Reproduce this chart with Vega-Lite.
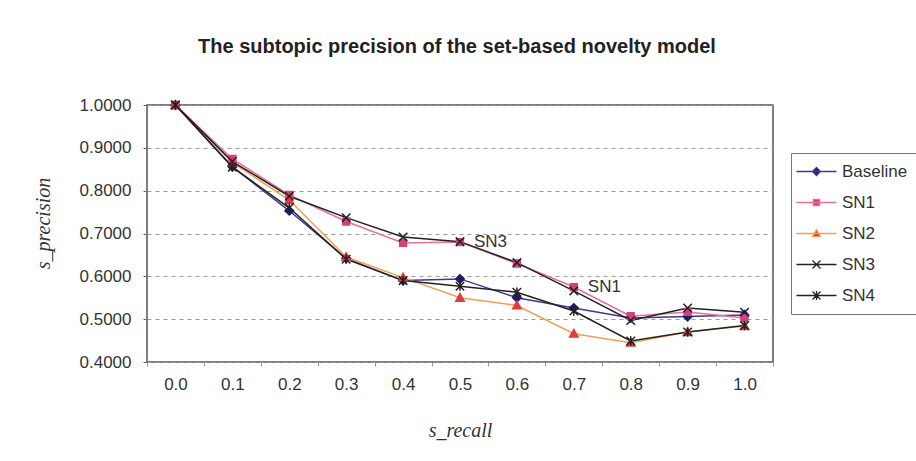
{
  "$schema": "https://vega.github.io/schema/vega-lite/v6.json",
  "width": 626,
  "height": 257,
  "autosize": {"type": "none"},
  "padding": {"left": 147, "top": 105, "right": 143, "bottom": 99},
  "background": "white",
  "title": {
    "text": "The subtopic precision of the set-based novelty model",
    "font": "Liberation Sans",
    "fontSize": 20,
    "fontWeight": "bold",
    "color": "#222222",
    "anchor": "middle",
    "frame": "group",
    "baseline": "alphabetic",
    "offset": 23,
    "dx": -3
  },
  "config": {
    "view": {"stroke": "#555555", "strokeWidth": 1.5},
    "axis": {
      "labelFont": "Liberation Sans",
      "labelFontSize": 17,
      "labelColor": "#333333",
      "titleFont": "Liberation Serif",
      "titleFontSize": 20,
      "titleFontStyle": "italic",
      "titleFontWeight": "normal",
      "titleColor": "#333333"
    },
    "legend": {
      "orient": "none",
      "legendX": 644,
      "legendY": 48,
      "strokeColor": "#777777",
      "fillColor": "white",
      "padding": 10,
      "symbolSize": 64,
      "symbolOffset": 7,
      "labelOffset": 17,
      "labelFont": "Liberation Sans",
      "labelFontSize": 17,
      "labelColor": "#333333",
      "rowPadding": 13,
      "symbolStrokeWidth": 1.3,
      "symbolOpacity": 1
    }
  },
  "data": {
    "values": [
      {"x": "0.0", "series": "Baseline", "y": 1.0},
      {"x": "0.1", "series": "Baseline", "y": 0.856},
      {"x": "0.2", "series": "Baseline", "y": 0.753},
      {"x": "0.3", "series": "Baseline", "y": 0.642},
      {"x": "0.4", "series": "Baseline", "y": 0.590},
      {"x": "0.5", "series": "Baseline", "y": 0.594},
      {"x": "0.6", "series": "Baseline", "y": 0.550},
      {"x": "0.7", "series": "Baseline", "y": 0.526},
      {"x": "0.8", "series": "Baseline", "y": 0.503},
      {"x": "0.9", "series": "Baseline", "y": 0.506},
      {"x": "1.0", "series": "Baseline", "y": 0.510},
      {"x": "0.0", "series": "SN1", "y": 1.0},
      {"x": "0.1", "series": "SN1", "y": 0.874},
      {"x": "0.2", "series": "SN1", "y": 0.790},
      {"x": "0.3", "series": "SN1", "y": 0.728},
      {"x": "0.4", "series": "SN1", "y": 0.678},
      {"x": "0.5", "series": "SN1", "y": 0.680},
      {"x": "0.6", "series": "SN1", "y": 0.630},
      {"x": "0.7", "series": "SN1", "y": 0.575},
      {"x": "0.8", "series": "SN1", "y": 0.507},
      {"x": "0.9", "series": "SN1", "y": 0.517},
      {"x": "1.0", "series": "SN1", "y": 0.503},
      {"x": "0.0", "series": "SN2", "y": 1.0},
      {"x": "0.1", "series": "SN2", "y": 0.866},
      {"x": "0.2", "series": "SN2", "y": 0.778},
      {"x": "0.3", "series": "SN2", "y": 0.645},
      {"x": "0.4", "series": "SN2", "y": 0.597},
      {"x": "0.5", "series": "SN2", "y": 0.550},
      {"x": "0.6", "series": "SN2", "y": 0.532},
      {"x": "0.7", "series": "SN2", "y": 0.466},
      {"x": "0.8", "series": "SN2", "y": 0.445},
      {"x": "0.9", "series": "SN2", "y": 0.470},
      {"x": "1.0", "series": "SN2", "y": 0.484},
      {"x": "0.0", "series": "SN3", "y": 1.0},
      {"x": "0.1", "series": "SN3", "y": 0.868},
      {"x": "0.2", "series": "SN3", "y": 0.787},
      {"x": "0.3", "series": "SN3", "y": 0.737},
      {"x": "0.4", "series": "SN3", "y": 0.692},
      {"x": "0.5", "series": "SN3", "y": 0.681},
      {"x": "0.6", "series": "SN3", "y": 0.632},
      {"x": "0.7", "series": "SN3", "y": 0.566},
      {"x": "0.8", "series": "SN3", "y": 0.497},
      {"x": "0.9", "series": "SN3", "y": 0.526},
      {"x": "1.0", "series": "SN3", "y": 0.516},
      {"x": "0.0", "series": "SN4", "y": 1.0},
      {"x": "0.1", "series": "SN4", "y": 0.855},
      {"x": "0.2", "series": "SN4", "y": 0.760},
      {"x": "0.3", "series": "SN4", "y": 0.640},
      {"x": "0.4", "series": "SN4", "y": 0.590},
      {"x": "0.5", "series": "SN4", "y": 0.577},
      {"x": "0.6", "series": "SN4", "y": 0.563},
      {"x": "0.7", "series": "SN4", "y": 0.519},
      {"x": "0.8", "series": "SN4", "y": 0.449},
      {"x": "0.9", "series": "SN4", "y": 0.470},
      {"x": "1.0", "series": "SN4", "y": 0.485}
    ]
  },
  "encoding": {
    "x": {
      "field": "x",
      "type": "ordinal",
      "scale": {"type": "band", "paddingInner": 0, "paddingOuter": 0},
      "axis": {
        "title": "s_recall",
        "labelAngle": 0,
        "tickBand": "extent",
        "ticks": true,
        "tickSize": 4,
        "tickColor": "#999999",
        "domain": false,
        "labelPadding": 10,
        "titlePadding": 28
      }
    },
    "y": {
      "field": "y",
      "type": "quantitative",
      "scale": {"domain": [0.4, 1.0], "nice": false, "zero": false},
      "axis": {
        "title": "s_precision",
        "values": [0.4, 0.5, 0.6, 0.7, 0.8, 0.9, 1.0],
        "format": ".4f",
        "tickSize": 4,
        "tickColor": "#666666",
        "domain": false,
        "labelPadding": 12,
        "titlePadding": 26,
        "titleY": 118,
        "grid": true,
        "gridColor": "#9a9a9a",
        "gridDash": [4, 4],
        "gridWidth": 1
      }
    }
  },
  "resolve": {"scale": {"shape": "independent", "fill": "independent", "stroke": "independent"}},
  "layer": [
    {
      "mark": {"type": "line", "strokeWidth": 1.5},
      "encoding": {
        "color": {
          "field": "series",
          "type": "nominal",
          "scale": {
            "domain": ["SN4", "SN3", "SN2", "SN1", "Baseline"],
            "range": ["#222222", "#222222", "#f0a050", "#e8709a", "#3b3b8f"]
          },
          "legend": null
        }
      }
    },
    {
      "mark": {"type": "point", "size": 72, "strokeWidth": 1.5, "opacity": 1},
      "encoding": {
        "fill": {
          "field": "series",
          "type": "nominal",
          "scale": {
            "domain": ["SN4", "SN3", "SN2", "SN1", "Baseline"],
            "range": ["transparent", "transparent", "#e03c3c", "#d6407a", "#1c1c6b"]
          },
          "legend": null
        },
        "stroke": {
          "field": "series",
          "type": "nominal",
          "scale": {
            "domain": ["SN4", "SN3", "SN2", "SN1", "Baseline"],
            "range": ["#222222", "#222222", "#e03c3c", "#d6407a", "#1c1c6b"]
          },
          "legend": null
        },
        "shape": {
          "field": "series",
          "type": "nominal",
          "scale": {
            "domain": ["SN4", "SN3", "SN2", "SN1", "Baseline"],
            "range": [
              "M-1,-1L1,1M-1,1L1,-1M0,-1.1L0,1.1",
              "M-1,-1L1,1M-1,1L1,-1",
              "M0,-1L1,0.8L-1,0.8Z",
              "M-0.8,-0.8L0.8,-0.8L0.8,0.8L-0.8,0.8Z",
              "M0,-1L1,0L0,1L-1,0Z"
            ]
          },
          "legend": null
        }
      }
    },
    {
      "mark": {"type": "point", "size": 64, "strokeWidth": 1.3, "opacity": 0},
      "encoding": {
        "fill": {
          "field": "series",
          "type": "nominal",
          "scale": {
            "domain": ["Baseline", "SN1", "SN2", "SN3", "SN4"],
            "range": ["#1c1c6b", "#d6407a", "#e03c3c", "transparent", "transparent"]
          },
          "legend": {"title": null}
        },
        "stroke": {
          "field": "series",
          "type": "nominal",
          "scale": {
            "domain": ["Baseline", "SN1", "SN2", "SN3", "SN4"],
            "range": ["#3b3b8f", "#e8709a", "#f0a050", "#222222", "#222222"]
          },
          "legend": {"title": null}
        },
        "shape": {
          "field": "series",
          "type": "nominal",
          "scale": {
            "domain": ["Baseline", "SN1", "SN2", "SN3", "SN4"],
            "range": [
              "M-5,0L5,0M0,-1L1,0L0,1L-1,0Z",
              "M-5,0L5,0M-0.8,-0.8L0.8,-0.8L0.8,0.8L-0.8,0.8Z",
              "M-5,0L5,0M0,-1L1,0.8L-1,0.8Z",
              "M-5,0L5,0M-1,-1L1,1M-1,1L1,-1",
              "M-5,0L5,0M-1,-1L1,1M-1,1L1,-1M0,-1.1L0,1.1"
            ]
          },
          "legend": {"title": null}
        }
      }
    },
    {
      "data": {
        "values": [
          {"x": "0.5", "y": 0.681, "label": "SN3"},
          {"x": "0.7", "y": 0.575, "label": "SN1"}
        ]
      },
      "mark": {
        "type": "text",
        "align": "left",
        "baseline": "middle",
        "dx": 14,
        "font": "Liberation Sans",
        "fontSize": 17,
        "color": "#333333"
      },
      "encoding": {"text": {"field": "label"}}
    }
  ]
}
